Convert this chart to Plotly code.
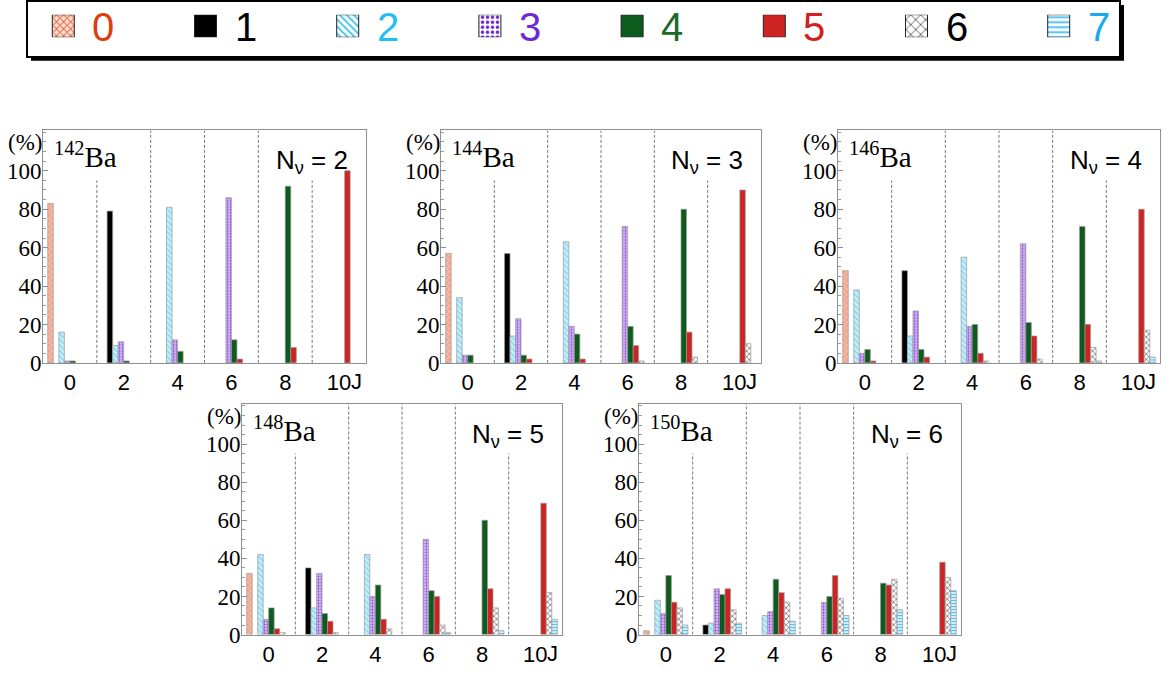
import plotly.graph_objects as go

N = None

# Angular momentum J of each group and component labels 0..7
j_labels = ["0", "2", "4", "6", "8", "10"]
component_labels = ["0", "1", "2", "3", "4", "5", "6", "7"]

# Percent contributions: one row per component (0..7), one column per J
ba142 = [
    [83, N, N, N, N, N],
    [N, 79, N, N, N, N],
    [16, 9, 81, N, N, N],
    [1, 11, 12, 86, N, N],
    [1, 1, 6, 12, 92, N],
    [N, N, N, 2, 8, 100],
    [N, N, N, N, N, N],
    [N, N, N, N, N, N],
]
ba144 = [
    [57, N, N, N, N, N],
    [N, 57, N, N, N, N],
    [34, 14, 63, N, N, N],
    [4, 23, 19, 71, N, N],
    [4, 4, 15, 19, 80, N],
    [N, 2, 2, 9, 16, 90],
    [N, N, N, 1, 3, 10],
    [N, N, N, N, N, N],
]
ba146 = [
    [48, N, N, N, N, N],
    [N, 48, N, N, N, N],
    [38, 14, 55, N, N, N],
    [5, 27, 19, 62, N, N],
    [7, 7, 20, 21, 71, N],
    [1, 3, 5, 14, 20, 80],
    [N, N, 1, 2, 8, 17],
    [N, N, N, N, 1, 3],
]
ba148 = [
    [32, N, N, N, N, N],
    [N, 35, N, N, N, N],
    [42, 14, 42, N, N, N],
    [8, 32, 20, 50, N, N],
    [14, 11, 26, 23, 60, N],
    [3, 7, 8, 20, 24, 69],
    [1, 1, 3, 5, 14, 22],
    [N, N, N, 1, 2, 8],
]
ba150 = [
    [2, N, N, N, N, N],
    [N, 5, N, N, N, N],
    [18, 6, 10, N, N, N],
    [11, 24, 12, 17, N, N],
    [31, 21, 29, 20, 27, N],
    [17, 24, 22, 31, 26, 38],
    [14, 13, 17, 19, 29, 30],
    [5, 6, 7, 10, 13, 23],
]

mass_numbers = ["142", "144", "146", "148", "150"]
n_nu = ["2", "3", "4", "5", "6"]
panel_data = [ba142, ba144, ba146, ba148, ba150]

# Fill and pattern of each component inside the panels
bar_styles = [
    dict(color="#f5b7a3", pattern=dict(shape="x", fgcolor="#ea8c70", size=4, solidity=0.25)),
    dict(color="#000000"),
    dict(color="#c6effb", pattern=dict(shape="\\", fgcolor="#7fd3ef", size=4, solidity=0.3)),
    dict(color="#d3b5f3", pattern=dict(shape=".", fgcolor="#8a48d8", size=3, solidity=0.3)),
    dict(color="#0d5c1e"),
    dict(color="#cd2323"),
    dict(color="#ffffff", pattern=dict(shape="x", fgcolor="#555555", size=4, solidity=0.3)),
    dict(color="#e2f5fc", pattern=dict(shape="-", fgcolor="#4fc0ee", size=3, solidity=0.4)),
]
# Larger-scale patterns for the legend swatches
legend_swatch_styles = [
    dict(color="#fbe0d6", pattern=dict(shape="x", fgcolor="#e8603a", size=5, solidity=0.35)),
    dict(color="#000000"),
    dict(color="#ffffff", pattern=dict(shape="\\", fgcolor="#3cc4f0", size=5, solidity=0.35)),
    dict(color="#ffffff", pattern=dict(shape=".", fgcolor="#6a26d0", size=5, solidity=0.4)),
    dict(color="#0d5c1e"),
    dict(color="#cd2323"),
    dict(color="#ffffff", pattern=dict(shape="x", fgcolor="#333333", size=7, solidity=0.2)),
    dict(color="#ffffff", pattern=dict(shape="-", fgcolor="#3cb8f0", size=5, solidity=0.35)),
]
text_colors = ["#dc4010", "#000000", "#1fbff2", "#7028d4", "#1b6a29", "#d21f1f", "#000000", "#1aa8ee"]

W, H = 1174, 676

# Pixel frames of the five panels (left, right, top, bottom)
frames = [
    (43, 366, 133, 370),
    (441, 761, 133, 370),
    (838, 1160, 133, 370),
    (242, 562, 412, 647),
    (639, 961, 412, 647),
]

YMAX = 121
SERIF = "Liberation Serif"
SANS = "Liberation Sans"


def marker_for(st, line_color, line_width):
    m = dict(color=st["color"], line=dict(color=line_color, width=line_width))
    if "pattern" in st:
        m["pattern"] = dict(st["pattern"], bgcolor=st["color"], fillmode="replace")
    return m


fig = go.Figure()
layout = dict(
    width=W, height=H,
    margin=dict(l=0, r=0, t=0, b=0),
    paper_bgcolor="white",
    plot_bgcolor="rgba(0,0,0,0)",
    barmode="group",
    bargap=0.176,
    bargroupgap=0,
    showlegend=False,
)

shapes = []
annotations = []

for p, (rows, (l, r, t, b)) in enumerate(zip(panel_data, frames)):
    k = p + 1
    xa = "x" if k == 1 else f"x{k}"
    ya = "y" if k == 1 else f"y{k}"
    for c, vals in enumerate(rows):
        fig.add_trace(go.Bar(
            x=list(range(len(j_labels))), y=vals, name=component_labels[c],
            marker=marker_for(bar_styles[c], "#9a9a9a", 0.7),
            xaxis=xa, yaxis=ya, showlegend=False,
        ))
    axis_x = dict(
        domain=[l / W, r / W], range=[-0.5, len(j_labels) - 0.5],
        anchor=ya, showgrid=False, zeroline=False,
        showline=True, mirror=True, linecolor="#8f8f8f", linewidth=1,
        tickmode="array", tickvals=list(range(len(j_labels))), ticktext=j_labels,
        ticks="", tickfont=dict(family=SANS, size=22, color="black"),
        fixedrange=True,
    )
    axis_y = dict(
        domain=[1 - b / H, 1 - t / H], range=[0, YMAX],
        anchor=xa, showgrid=False, zeroline=False,
        showline=True, mirror=True, linecolor="#8f8f8f", linewidth=1,
        tickmode="array", tickvals=[0, 20, 40, 60, 80, 100],
        ticks="inside", ticklen=5, tickcolor="#8f8f8f",
        minor=dict(dtick=5, ticks="inside", ticklen=2.5, tickcolor="#9a9a9a"),
        tickfont=dict(family=SERIF, size=23, color="black"),
        ticklabelstandoff=-4,
        fixedrange=True,
    )
    layout["xaxis" if k == 1 else f"xaxis{k}"] = axis_x
    layout["yaxis" if k == 1 else f"yaxis{k}"] = axis_y

    # dotted separators between J groups
    for j in range(len(j_labels) - 1):
        top = 95 if j in (0, len(j_labels) - 2) else YMAX
        shapes.append(dict(
            type="line", xref=xa, yref=ya, x0=j + 0.5, x1=j + 0.5, y0=0, y1=top,
            line=dict(color="#777777", width=1, dash="3px,2px"), layer="below",
        ))

    annotations.append(dict(
        xref=f"{xa} domain", yref=ya, x=0, y=114.5, xanchor="right", yanchor="middle",
        xshift=1, text="(%)", showarrow=False,
        font=dict(family=SERIF, size=23, color="black"),
    ))
    annotations.append(dict(
        xref=f"{xa} domain", yref=f"{ya} domain", x=0, y=1, xanchor="left", yanchor="top",
        xshift=9, yshift=-5, text=f"<sup>{mass_numbers[p]}</sup>Ba", showarrow=False,
        font=dict(family=SERIF, size=29, color="black"),
    ))
    annotations.append(dict(
        xref=f"{xa} domain", yref=f"{ya} domain", x=1, y=1, xanchor="right", yanchor="top",
        xshift=-16, yshift=-13, text=f"N<sub>ν</sub> = {n_nu[p]}", showarrow=False,
        font=dict(family=SANS, size=26, color="black"),
    ))
    annotations.append(dict(
        xref=f"{xa} domain", yref=f"{ya} domain", x=1, y=0, xanchor="right", yanchor="top",
        xshift=-2, yshift=-4, text="J", showarrow=False,
        font=dict(family=SANS, size=22, color="black"),
    ))

# Legend row: patterned swatches on their own axis, coloured digits beside them
LEG = 6
sw_x0, sw_step, sw_w = 63.3, 142.2, 22
for i, lab in enumerate(component_labels):
    fig.add_trace(go.Bar(
        x=[i], y=[1], width=sw_w / sw_step, offsetgroup="legend",
        marker=marker_for(legend_swatch_styles[i], "#222222", 1),
        xaxis=f"x{LEG}", yaxis=f"y{LEG}", showlegend=False, hoverinfo="skip",
    ))
    annotations.append(dict(
        xref=f"x{LEG}", yref="paper", x=i + sw_w / 2 / sw_step, y=1 - 27 / H,
        xanchor="left", yanchor="middle", xshift=16, yshift=-1,
        text=lab, showarrow=False,
        font=dict(family=SANS, size=40, color=text_colors[i]),
    ))
layout[f"xaxis{LEG}"] = dict(
    domain=[0, 1], range=[-sw_x0 / sw_step, (W - sw_x0) / sw_step],
    anchor=f"y{LEG}", visible=False, fixedrange=True,
)
layout[f"yaxis{LEG}"] = dict(
    domain=[1 - 38 / H, 1 - 15 / H], range=[0, 1],
    anchor=f"x{LEG}", visible=False, fixedrange=True,
)

# framed legend box with a drop shadow
shapes.insert(0, dict(type="rect", xref="paper", yref="paper",
                      x0=31 / W, x1=1124 / W, y0=1 - 62 / H, y1=1 - 5 / H,
                      fillcolor="black", line=dict(width=0), layer="below"))
shapes.insert(1, dict(type="rect", xref="paper", yref="paper",
                      x0=27 / W, x1=1120 / W, y0=1 - 58 / H, y1=1 - 1 / H,
                      fillcolor="white", line=dict(color="black", width=2), layer="below"))

layout["shapes"] = shapes
layout["annotations"] = annotations
fig.update_layout(**layout)
fig.write_html("out.html")
